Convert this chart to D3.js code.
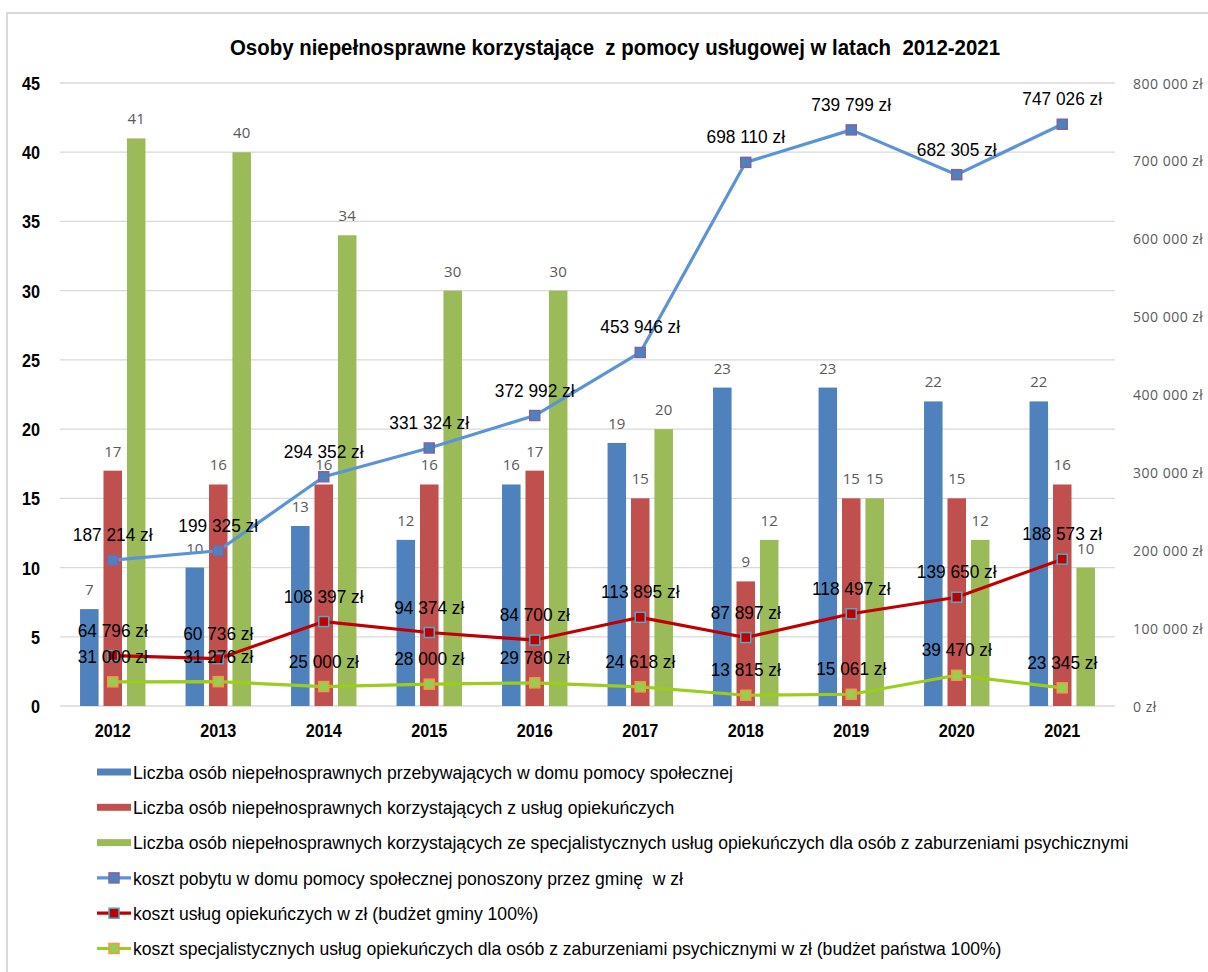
<!DOCTYPE html>
<html>
<head>
<meta charset="utf-8">
<script src="https://cdn.jsdelivr.net/npm/d3@7"></script>
<style>
  body { margin: 0; background: #fff; }
  svg { display: block; }
</style>
</head>
<body>
<div id="chart"></div>
<script>
const years = ['2012', '2013', '2014', '2015', '2016', '2017', '2018', '2019', '2020', '2021'];

// bars (left axis, number of people)
const osobyDps = [7, 10, 13, 12, 16, 19, 23, 23, 22, 22];
const osobyOpiekuncze = [17, 16, 16, 16, 17, 15, 9, 15, 15, 16];
const osobySpecjalistyczne = [41, 40, 34, 30, 30, 20, 12, 15, 12, 10];

// lines (right axis, zł)
const kosztDps = [187214, 199325, 294352, 331324, 372992, 453946, 698110, 739799, 682305, 747026];
const kosztOpiekuncze = [64796, 60736, 108397, 94374, 84700, 113895, 87897, 118497, 139650, 188573];
const kosztSpecjalistyczne = [31000, 31276, 25000, 28000, 29780, 24618, 13815, 15061, 39470, 23345];

const leftTicks = [0, 5, 10, 15, 20, 25, 30, 35, 40, 45];
const rightTicks = [0, 100000, 200000, 300000, 400000, 500000, 600000, 700000, 800000];

const barSeries = [
  { key: 'dps', values: osobyDps, color: '#4F81BD',
    label: 'Liczba osób niepełnosprawnych przebywających w domu pomocy społecznej' },
  { key: 'opiek', values: osobyOpiekuncze, color: '#C0504D',
    label: 'Liczba osób niepełnosprawnych korzystających z usług opiekuńczych' },
  { key: 'spec', values: osobySpecjalistyczne, color: '#9BBB59',
    label: 'Liczba osób niepełnosprawnych korzystających ze specjalistycznych usług opiekuńczych dla osób z zaburzeniami psychicznymi' },
];
const lineSeries = [
  { values: kosztDps, color: '#5B93D7', fill: '#4F81BD', stroke: '#8064A2',
    label: 'koszt pobytu w domu pomocy społecznej ponoszony przez gminę  w zł' },
  { values: kosztOpiekuncze, color: '#C00000', fill: '#C00000', stroke: '#4BACC6',
    label: 'koszt usług opiekuńczych w zł (budżet gminy 100%)' },
  { values: kosztSpecjalistyczne, color: '#9ACD1E', fill: '#92D050', stroke: '#F79646',
    label: 'koszt specjalistycznych usług opiekuńczych dla osób z zaburzeniami psychicznymi w zł (budżet państwa 100%)' },
];

const W = 1208, H = 972;
const sans = "'Liberation Sans', Arial, sans-serif";
const light = "'Open Sans', 'Liberation Sans', sans-serif";
const plot = { left: 60, right: 1115, top: 83, bottom: 706 };

const zl = v => d3.format(',')(v).replace(/,/g, ' ') + ' zł';

// squeeze a text horizontally, like a narrow font
function squeeze(sel, k) {
  sel.each(function() {
    const w = this.getComputedTextLength();
    this.setAttribute('textLength', w * k);
    this.setAttribute('lengthAdjust', 'spacingAndGlyphs');
  });
}

const svg = d3.select('#chart').append('svg')
  .attr('width', W)
  .attr('height', H);

// frame
svg.append('rect')
  .attr('x', 7).attr('y', 13)
  .attr('width', W + 20).attr('height', H + 20)
  .attr('fill', '#fff')
  .attr('stroke', '#D9D9D9')
  .attr('stroke-width', 2);

svg.append('text')
  .attr('x', 615).attr('y', 55)
  .attr('text-anchor', 'middle')
  .attr('xml:space', 'preserve')
  .style('font-family', sans)
  .style('font-weight', 'bold')
  .style('font-size', '22px')
  .text('Osoby niepełnosprawne korzystające  z pomocy usługowej w latach  2012-2021')
  .attr('textLength', 770)
  .attr('lengthAdjust', 'spacingAndGlyphs');

// scales
const x0 = d3.scaleBand()
  .domain(years)
  .range([plot.left, plot.right])
  .paddingInner(0.38)
  .paddingOuter(0.19);
const x1 = d3.scaleBand()
  .domain(barSeries.map(s => s.key))
  .range([0, x0.bandwidth()])
  .paddingInner(0.21);
const yLeft = d3.scaleLinear().domain([0, 45]).range([plot.bottom, plot.top]);
const yRight = d3.scaleLinear().domain([0, 800000]).range([plot.bottom, plot.top]);
const cx = y => x0(y) + x0.bandwidth() / 2;

// gridlines
svg.append('g')
  .selectAll('line')
  .data(leftTicks)
  .enter()
  .append('line')
  .attr('x1', plot.left).attr('x2', plot.right)
  .attr('y1', d => yLeft(d)).attr('y2', d => yLeft(d))
  .attr('stroke', '#D9D9D9')
  .attr('stroke-width', 1.3);

// left axis
const leftAxis = svg.append('g')
  .attr('transform', 'translate(40,0)')
  .call(d3.axisLeft(yLeft).tickValues(leftTicks).tickSize(0).tickPadding(0));
leftAxis.select('.domain').remove();
leftAxis.selectAll('text')
  .attr('dy', '0.36em')
  .style('font-family', sans)
  .style('font-weight', 'bold')
  .style('font-size', '18px')
  .attr('fill', '#000')
  .call(squeeze, 0.9);

// right axis
const rightAxis = svg.append('g')
  .attr('transform', 'translate(1133,0)')
  .call(d3.axisRight(yRight).tickValues(rightTicks).tickSize(0).tickPadding(0)
    .tickFormat(d => d === 0 ? '0 zł' : zl(d)));
rightAxis.select('.domain').remove();
rightAxis.selectAll('text')
  .attr('dy', '0.36em')
  .style('font-family', light)
  .style('font-size', '14px')
  .style('letter-spacing', '0.5px')
  .attr('fill', '#595959');

// x axis
const xAxis = svg.append('g')
  .attr('transform', `translate(0,${plot.bottom})`)
  .call(d3.axisBottom(x0).tickSize(0).tickPadding(0));
xAxis.select('.domain').remove();
xAxis.selectAll('text')
  .attr('y', 31)
  .attr('dy', 0)
  .style('font-family', sans)
  .style('font-weight', 'bold')
  .style('font-size', '18px')
  .attr('fill', '#000')
  .call(squeeze, 0.9);

// bars
const groups = svg.append('g')
  .selectAll('g.year')
  .data(years)
  .enter()
  .append('g')
  .attr('class', 'year')
  .attr('transform', d => `translate(${x0(d)},0)`);

const barData = (d, i) => barSeries.map(s => ({ key: s.key, color: s.color, value: s.values[i] }));

groups.selectAll('rect')
  .data(barData)
  .enter()
  .append('rect')
  .attr('x', d => x1(d.key))
  .attr('width', x1.bandwidth())
  .attr('y', d => yLeft(d.value))
  .attr('height', d => plot.bottom - yLeft(d.value))
  .attr('fill', d => d.color);

groups.selectAll('text')
  .data(barData)
  .enter()
  .append('text')
  .attr('x', d => x1(d.key) + x1.bandwidth() / 2)
  .attr('y', d => yLeft(d.value) - 14)
  .attr('text-anchor', 'middle')
  .style('font-family', light)
  .style('font-size', '15px')
  .attr('fill', '#595959')
  .text(d => d.value);

// lines
const line = d3.line()
  .x((d, i) => cx(years[i]))
  .y(d => yRight(d));

lineSeries.forEach(s => {
  svg.append('path')
    .datum(s.values)
    .attr('fill', 'none')
    .attr('stroke', s.color)
    .attr('stroke-width', 3.2)
    .attr('stroke-linejoin', 'round')
    .attr('d', line);
});

lineSeries.forEach(s => {
  svg.append('g')
    .selectAll('rect')
    .data(s.values)
    .enter()
    .append('rect')
    .attr('x', (d, i) => cx(years[i]) - 5)
    .attr('y', d => yRight(d) - 5)
    .attr('width', 10)
    .attr('height', 10)
    .attr('fill', s.fill)
    .attr('stroke', s.stroke)
    .attr('stroke-width', 1.5);
});

lineSeries.forEach(s => {
  svg.append('g')
    .selectAll('text')
    .data(s.values)
    .enter()
    .append('text')
    .attr('x', (d, i) => cx(years[i]))
    .attr('y', d => yRight(d) - 19)
    .attr('text-anchor', 'middle')
    .style('font-family', sans)
    .style('font-size', '18px')
    .attr('fill', '#000')
    .text(d => zl(d))
    .call(squeeze, 0.96);
});

// legend
const legendItems = barSeries.map(s => ({ type: 'bar', s }))
  .concat(lineSeries.map(s => ({ type: 'line', s })));

const legend = svg.append('g')
  .attr('class', 'legend')
  .selectAll('g.legend-item')
  .data(legendItems)
  .enter()
  .append('g')
  .attr('class', 'legend-item')
  .attr('transform', (d, i) => `translate(97,${772 + i * 35.3})`);

legend.filter(d => d.type === 'bar')
  .append('rect')
  .attr('x', 0).attr('y', -3.5)
  .attr('width', 34).attr('height', 7)
  .attr('fill', d => d.s.color);

legend.filter(d => d.type === 'line')
  .append('line')
  .attr('x1', 0).attr('x2', 34)
  .attr('stroke', d => d.s.color)
  .attr('stroke-width', 3.2);

legend.filter(d => d.type === 'line')
  .append('rect')
  .attr('x', 12).attr('y', -5)
  .attr('width', 10).attr('height', 10)
  .attr('fill', d => d.s.fill)
  .attr('stroke', d => d.s.stroke)
  .attr('stroke-width', 1.5);

legend.append('text')
  .attr('x', 36)
  .attr('dy', '0.36em')
  .attr('xml:space', 'preserve')
  .style('font-family', sans)
  .style('font-size', '18.5px')
  .attr('fill', '#000')
  .text(d => d.s.label)
  .call(squeeze, 0.95);
</script>
</body>
</html>
